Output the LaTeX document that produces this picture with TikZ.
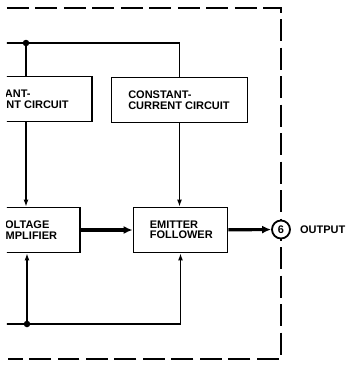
\documentclass[tikz,border=0pt]{standalone}
\usepackage{fontspec}
\setsansfont{Liberation Sans}
\usetikzlibrary{positioning,arrows.meta,calc}
\begin{document}
\begin{tikzpicture}[
  x=1pt, y=-1pt,
  blk/.style={draw, rectangle, line width=1.8pt, minimum width=#1, minimum height=45pt, inner sep=0pt},
  txt/.style={font=\sffamily\bfseries\fontsize{11}{10.5}\selectfont, align=left, inner sep=0pt, anchor=west},
  wire/.style={line width=1.6pt},
  arr/.style={-{Latex[length=7pt,width=5pt]}, line width=1.6pt},
  thk/.style={-{Latex[length=9pt,width=8pt]}, line width=3.2pt},
  jn/.style={circle, fill, inner sep=0pt, minimum size=6.5pt},
  encl/.style={dash pattern=on 22pt off 6.5pt, line width=2.4pt},
  pin/.style={circle, draw, fill=white, line width=1.8pt, minimum size=18pt, inner sep=0pt, font=\sffamily\bfseries\fontsize{11}{11}\selectfont},
]
  \useasboundingbox (0,0) rectangle (346,368);
  \begin{scope}
    \clip (7,0) rectangle (346,368);
    \node[blk=138pt] (cc1) at (23,99)    {};
    \node[blk=136pt] (cc2) at (179.5,100) {};
    \node[blk=95pt]  (va)  at (32.5,230)  {};
    \node[blk=94pt]  (ef)  at (180.5,230) {};
    \node[txt] (cc1t) at ([xshift=14pt]cc1.west)   {CONSTANT-\\CURRENT CIRCUIT};
    \node[txt] (cc2t) at ([xshift=17.5pt]cc2.west) {CONSTANT-\\CURRENT CIRCUIT};
    \node[txt] (vat)  at ([xshift=13.5pt]va.west)  {VOLTAGE\\AMPLIFIER};
    \node[txt] (eft)  at ([xshift=17pt]ef.west)    {EMITTER\\FOLLOWER};

    \coordinate (tl) at (0,43);
    \coordinate (bl) at (0,324);
    \node[jn] (tj) at (26,43)  {};
    \node[jn] (bj) at (27,324) {};

    \draw[encl] (7,8) -- (281,8) -- (281,359) -- (8,359);

    \draw[wire] (tl) -- (tj) -| (cc2.north);
    \draw[wire] (tj) -- (tj |- cc1.north);
    \draw[arr] (tj |- cc1.south) -- (tj |- va.north);
    \draw[arr] (cc2.south) -- (cc2.south |- ef.north);
    \draw[wire] (bl) -- (bj);
    \draw[arr] (bj) -| (ef.south);
    \draw[arr] (bj) -- (bj |- va.south);

    \node[pin] (out) at (281,229.5) {6};
    \draw[thk] (va) -- (ef);
    \draw[thk] (ef) -- (out);
    \node[txt, right=9pt of out] (outl) {OUTPUT};
  \end{scope}
\end{tikzpicture}
\end{document}
